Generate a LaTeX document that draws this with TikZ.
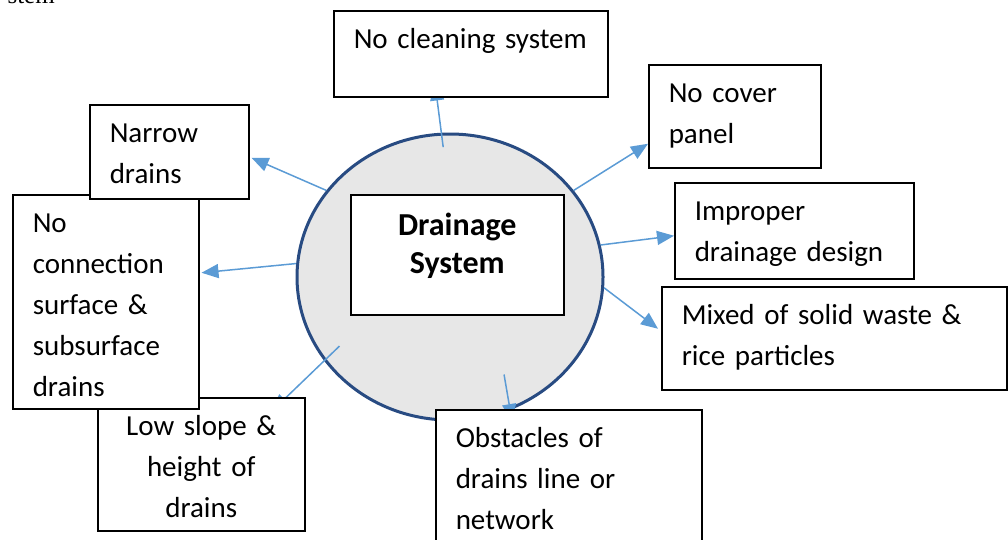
\documentclass[tikz,border=0pt]{standalone}
\usepackage{fontspec}
\setmainfont{Carlito}
\newfontfamily\stemfont{Liberation Serif}
\usetikzlibrary{arrows.meta,shapes.geometric,calc,backgrounds}
\definecolor{navy}{RGB}{40,75,130}
\definecolor{sky}{RGB}{91,155,213}
\definecolor{mist}{RGB}{231,231,231}
\pgfdeclarelayer{arrowlayer}
\pgfsetlayers{background,arrowlayer,main}
\newcommand\causefont{\fontsize{29}{41}\selectfont}
\newcommand\hubfont{\fontsize{32}{38}\selectfont\bfseries}
\tikzset{
  >={Triangle[length=17pt,width=14pt]},
  cause/.style={draw=black,fill=white,line width=1.5pt,anchor=north west,
    align=left,inner xsep=20pt,inner ysep=0pt,text height=38pt,font=\causefont},
  hub/.style={ellipse,draw=navy,fill=mist,line width=3pt,inner sep=0pt,
    minimum width=306pt,minimum height=286pt},
  link/.style={->,draw=sky,fill=sky,line width=1.5pt},
}
\begin{document}
\begin{tikzpicture}[x=1pt,y=-1pt]
  \useasboundingbox (0,0) rectangle (1008,539);
  \node[anchor=base west,font=\stemfont\fontsize{25}{30}\selectfont] (stem) at (4,3) {stem};

  % centre
  \begin{pgfonlayer}{background}
    \node[hub] (circ) at (450,277) {};
    \node[cause,align=center,text width=173pt,text height=41pt,text depth=79pt,
      font=\hubfont] (sys) at (350,194) {Drainage\\System};
  \end{pgfonlayer}

  % causes
  \node[cause,align=center,text width=167pt,text depth=95pt] (low) at (97,397) {Low slope \&\\height of\\drains};
  \node[cause,text width=146pt,text depth=176pt] (nocon) at (12,194) {No\\connection\\surface \&\\subsurface\\drains};
  \node[cause,text width=119pt,text depth=56pt] (narrow) at (89,104) {Narrow\\drains};
  \node[cause,text width=234pt,text depth=48pt] (clean) at (333,10) {No cleaning system};
  \node[cause,text width=132pt,text depth=65pt] (cover) at (648,64) {No cover\\panel};
  \node[cause,text width=199pt,text depth=58pt] (improper) at (674,182) {Improper\\drainage design};
  \node[cause,text width=305pt,text depth=65pt] (mixed) at (661,286) {Mixed of solid waste \&\\rice particles};
  \node[cause,text width=226pt,text depth=102pt] (obst) at (435,409) {Obstacles of\\drains line or\\network};

  % arrows
  \begin{pgfonlayer}{arrowlayer}
    \draw[link] ($(circ.center)!0.9!(circ.93)$) -- ($(clean.south west)+(102,-14)$);
    \draw[link] (circ.145) -- ($(narrow.east)+(2,6)$);
    \draw[link] (circ.175) -- ($(nocon.east)+(2,-29)$);
    \draw[link] ($(circ.center)!0.86!(circ.212)$) -- ($(low.north west)+(175,14)$);
    \draw[link] ($(circ.center)!0.76!(circ.-61)$) -- ($(obst.north west)+(77,12)$);
    \draw[link] (circ.-4) -- ($(mixed.west)+(-3,-9.5)$);
    \draw[link] (circ.12) -- ($(improper.west)+(0,5)$);
    \draw[link] (circ.35.5) -- ($(cover.west)+(0,27.5)$);
  \end{pgfonlayer}
\end{tikzpicture}
\end{document}
